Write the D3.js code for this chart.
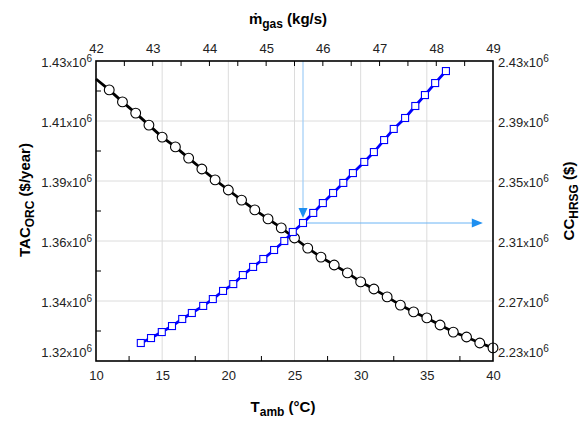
<!DOCTYPE html>
<html>
<head>
<meta charset="utf-8">
<script src="https://cdn.jsdelivr.net/npm/d3@7"></script>
<style>
  body { margin: 0; background: #fff; }
  text { font-family: "Liberation Sans", Arial, sans-serif; }
</style>
</head>
<body>
<div id="chart"></div>
<script>
var svgWidth = 580;
var svgHeight = 421;

var margin = { top: 61, right: 87, bottom: 60, left: 96 };
var width = svgWidth - margin.left - margin.right;
var height = svgHeight - margin.top - margin.bottom;

// ambient temperature (°C) for the TAC curve
var tAmb = [10, 11, 12, 13, 14, 15, 16, 17, 18, 19, 20, 21, 22, 23, 24, 25,
  26, 27, 28, 29, 30, 31, 32, 33, 34, 35, 36, 37, 38, 39, 40];
// TAC_ORC ($/year)
var tacOrc = [1423400, 1419400, 1415000, 1410900, 1406500, 1402100, 1398500, 1394400,
  1390400, 1386400, 1382700, 1379000, 1375400, 1372100, 1368800, 1365100,
  1361400, 1358100, 1355200, 1352300, 1349000, 1346400, 1343500, 1340500,
  1338000, 1335800, 1333200, 1330600, 1328800, 1326600, 1324800];

// gas mass flow (kg/s) for the CC curve
var mGas = [42.79, 42.97, 43.16, 43.34, 43.52, 43.69, 43.89, 44.06, 44.24, 44.42,
  44.59, 44.77, 44.95, 45.14, 45.32, 45.47, 45.65, 45.83, 46.00, 46.18,
  46.36, 46.53, 46.73, 46.90, 47.08, 47.25, 47.45, 47.63, 47.80, 47.98, 48.17];
// CC_HRSG ($)
var ccHrsg = [2242000, 2245300, 2249300, 2253300, 2258000, 2262000, 2266700, 2271300,
  2276700, 2281300, 2287300, 2292700, 2298000, 2304000, 2310000, 2316000,
  2322000, 2328700, 2335300, 2342000, 2348700, 2355300, 2362700, 2369300,
  2377300, 2384700, 2392000, 2400000, 2407300, 2415300, 2423300];

// pointer lines: selected gas flow and its cost
var markFlow = 45.65;
var markCost = 2322000;
var markArrowEnd = 48.82;

var leftTicks = [1320000, 1342000, 1364000, 1386000, 1408000, 1430000];
var rightTicks = [2230000, 2270000, 2310000, 2350000, 2390000, 2430000];
var bottomTicks = [10, 15, 20, 25, 30, 35, 40];
var topTicks = [42, 43, 44, 45, 46, 47, 48, 49];

var svg = d3.select("#chart")
  .append("svg")
  .attr("width", svgWidth)
  .attr("height", svgHeight);

var chartGroup = svg.append("g")
  .attr("transform", `translate(${margin.left}, ${margin.top})`);

// scales
var xScale = d3.scaleLinear().domain([10, 40]).range([0, width]);
var xTopScale = d3.scaleLinear().domain([42, 49]).range([0, width]);
var yLeftScale = d3.scaleLinear().domain([1320000, 1430000]).range([height, 0]);
var yRightScale = d3.scaleLinear().domain([2230000, 2430000]).range([height, 0]);

// gridlines
chartGroup.append("g")
  .selectAll("line")
  .data(leftTicks.slice(1, -1))
  .enter()
  .append("line")
  .attr("x1", 0).attr("x2", width)
  .attr("y1", d => yLeftScale(d)).attr("y2", d => yLeftScale(d))
  .attr("stroke", "#dcdcdc").attr("stroke-width", 1);

chartGroup.append("g")
  .selectAll("line")
  .data(bottomTicks.slice(1, -1))
  .enter()
  .append("line")
  .attr("y1", 0).attr("y2", height)
  .attr("x1", d => xScale(d)).attr("x2", d => xScale(d))
  .attr("stroke", "#dcdcdc").attr("stroke-width", 1);

// minor ticks, pointing inward
var leftMinor = d3.range(5).map(i => (leftTicks[i] + leftTicks[i + 1]) / 2);
chartGroup.append("g").selectAll("line")
  .data(leftMinor).enter().append("line")
  .attr("x1", 0).attr("x2", 5)
  .attr("y1", d => yLeftScale(d)).attr("y2", d => yLeftScale(d))
  .attr("stroke", "#000");

var bottomMinor = d3.range(6).map(i => bottomTicks[i] + 2.5);
chartGroup.append("g").selectAll("line")
  .data(bottomMinor).enter().append("line")
  .attr("y1", height).attr("y2", height - 5)
  .attr("x1", d => xScale(d)).attr("x2", d => xScale(d))
  .attr("stroke", "#000");

var topMinor = d3.range(42.5, 49, 0.5);
chartGroup.append("g").selectAll("line")
  .data(topMinor).enter().append("line")
  .attr("y1", 0).attr("y2", 5)
  .attr("x1", d => xTopScale(d)).attr("x2", d => xTopScale(d))
  .attr("stroke", "#000");

// pointer lines
chartGroup.append("line")
  .attr("x1", xTopScale(markFlow)).attr("x2", xTopScale(markFlow))
  .attr("y1", 0).attr("y2", yRightScale(markCost) - 12)
  .attr("stroke", "#9fcdf7").attr("stroke-width", 1.2);

chartGroup.append("line")
  .attr("x1", xTopScale(markFlow)).attr("x2", xTopScale(markArrowEnd) - 8)
  .attr("y1", yRightScale(markCost)).attr("y2", yRightScale(markCost))
  .attr("stroke", "#6ab4f5").attr("stroke-width", 1);

var ax = xTopScale(markFlow), ay = yRightScale(markCost) - 5;
chartGroup.append("path")
  .attr("d", `M${ax - 4.5},${ay - 10} L${ax + 4.5},${ay - 10} L${ax},${ay} Z`)
  .attr("fill", "#1e8ff0");

var hx = xTopScale(markArrowEnd), hy = yRightScale(markCost);
chartGroup.append("path")
  .attr("d", `M${hx - 11},${hy - 4.5} L${hx - 11},${hy + 4.5} L${hx},${hy} Z`)
  .attr("fill", "#1e8ff0");

// TAC curve (black, circles)
var tacLine = d3.line()
  .x((d, i) => xScale(tAmb[i]))
  .y(d => yLeftScale(d));

chartGroup.append("path")
  .datum(tacOrc)
  .attr("d", tacLine)
  .attr("fill", "none")
  .attr("stroke", "#000")
  .attr("stroke-width", 2.8);

chartGroup.append("g").selectAll("circle")
  .data(tacOrc.slice(1))
  .enter()
  .append("circle")
  .attr("cx", (d, i) => xScale(tAmb[i + 1]))
  .attr("cy", d => yLeftScale(d))
  .attr("r", 4.9)
  .attr("fill", "#fff")
  .attr("stroke", "#000")
  .attr("stroke-width", 1.1);

// CC curve (blue, squares)
var ccLine = d3.line()
  .x((d, i) => xTopScale(mGas[i]))
  .y(d => yRightScale(d));

chartGroup.append("path")
  .datum(ccHrsg)
  .attr("d", ccLine)
  .attr("fill", "none")
  .attr("stroke", "#0000ff")
  .attr("stroke-width", 2.8);

chartGroup.append("g").selectAll("rect")
  .data(ccHrsg)
  .enter()
  .append("rect")
  .attr("x", (d, i) => xTopScale(mGas[i]) - 3.5)
  .attr("y", d => yRightScale(d) - 3.5)
  .attr("width", 7)
  .attr("height", 7)
  .attr("fill", "#fff")
  .attr("stroke", "#0000ff")
  .attr("stroke-width", 1.1);

// frame
chartGroup.append("rect")
  .attr("width", width).attr("height", height)
  .attr("fill", "none").attr("stroke", "#000").attr("stroke-width", 1.6);

// axes (labels only, ticks drawn above)
function sciLabels(sel) {
  sel.selectAll(".tick text").each(function(d, i) {
    var t = d3.select(this).text("");
    t.append("tspan").text((d / 1e6).toFixed(2));
    t.append("tspan").attr("font-size", 11).text("x");
    t.append("tspan").text("10");
    t.append("tspan").attr("font-size", 10).attr("dy", -5).text("6");
    // lowest label is lifted clear of the bottom axis
    if (i === 0) t.attr("y", -10);
  });
}

var leftAxis = chartGroup.append("g")
  .call(d3.axisLeft(yLeftScale).tickValues(leftTicks).tickSize(0).tickPadding(4));
leftAxis.call(sciLabels);

var rightAxis = chartGroup.append("g")
  .attr("transform", `translate(${width}, 0)`)
  .call(d3.axisRight(yRightScale).tickValues(rightTicks).tickSize(0).tickPadding(5));
rightAxis.call(sciLabels);

var bottomAxis = chartGroup.append("g")
  .attr("transform", `translate(0, ${height})`)
  .call(d3.axisBottom(xScale).tickValues(bottomTicks).tickSize(0).tickPadding(10));

var topAxis = chartGroup.append("g")
  .call(d3.axisTop(xTopScale).tickValues(topTicks).tickFormat(d3.format("d")).tickSize(0).tickPadding(8));

[leftAxis, rightAxis, bottomAxis, topAxis].forEach(function(a) {
  a.select(".domain").remove();
  a.selectAll(".tick text")
    .attr("font-family", "Liberation Sans, Arial, sans-serif")
    .attr("font-size", 13)
    .attr("fill", "#222");
});
leftAxis.selectAll(".tick text").attr("dy", "0.4em");
rightAxis.selectAll(".tick text").attr("dy", "0.4em");

// axis titles
var bTitle = svg.append("text")
  .attr("x", 283).attr("y", 412)
  .attr("text-anchor", "middle")
  .attr("font-weight", "bold").attr("font-size", 15);
bTitle.append("tspan").text("T");
bTitle.append("tspan").attr("font-size", 12).attr("dy", 4).text("amb");
bTitle.append("tspan").attr("dy", -4).text(" (°C)");

var tTitle = svg.append("text")
  .attr("x", 288).attr("y", 24)
  .attr("text-anchor", "middle")
  .attr("font-weight", "bold").attr("font-size", 15);
tTitle.append("tspan").text("ṁ");
tTitle.append("tspan").attr("font-size", 12).attr("dy", 4).text("gas");
tTitle.append("tspan").attr("dy", -4).text(" (kg/s)");

var lTitle = svg.append("text")
  .attr("transform", "translate(30, 200) rotate(-90)")
  .attr("text-anchor", "middle")
  .attr("font-weight", "bold").attr("font-size", 15);
lTitle.append("tspan").text("TAC");
lTitle.append("tspan").attr("font-size", 12).attr("dy", 4).text("ORC");
lTitle.append("tspan").attr("dy", -4).text(" ($/year)");

var rTitle = svg.append("text")
  .attr("transform", "translate(574, 201) rotate(-90)")
  .attr("text-anchor", "middle")
  .attr("font-weight", "bold").attr("font-size", 15);
rTitle.append("tspan").text("CC");
rTitle.append("tspan").attr("font-size", 12).attr("dy", 4).text("HRSG");
rTitle.append("tspan").attr("dy", -4).text(" ($)");
</script>
</body>
</html>
